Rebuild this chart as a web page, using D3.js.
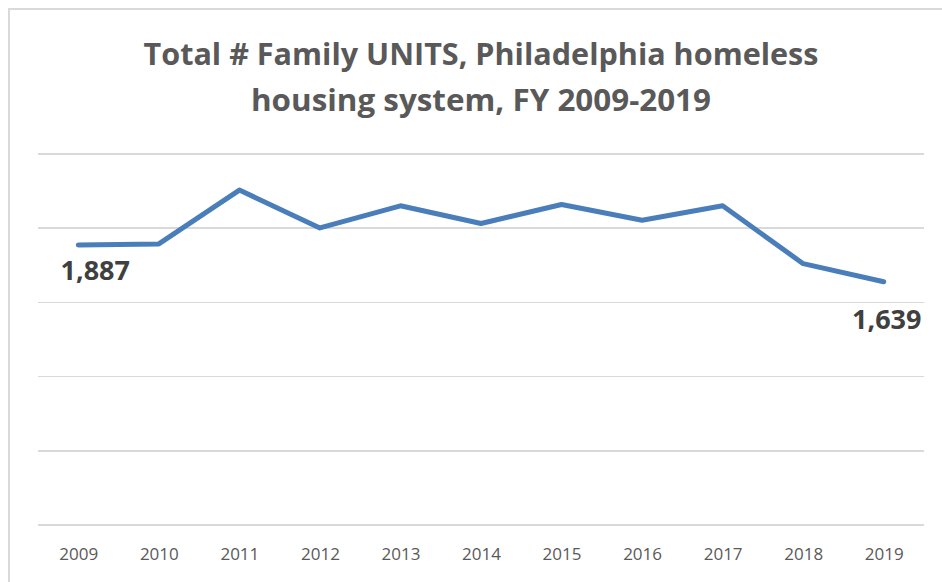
<!DOCTYPE html>
<html>
<head>
    <meta charset="utf-8">
    <script src="https://cdnjs.cloudflare.com/ajax/libs/d3/7.8.5/d3.min.js"></script>
    <style>
        body {
            margin: 0;
            background-color: #fff;
        }
        svg { display: block; }
        .grid line {
            stroke: #d9d9d9;
            stroke-width: 1.5;
            shape-rendering: crispEdges;
        }
        .x-axis path,
        .x-axis line { display: none; }
        .x-axis text {
            font: 17px 'Open Sans';
            fill: #595959;
        }
    </style>
</head>
<body>
    <svg width="942" height="582"></svg>
    <script>
        // chart data
        var years = ["2009", "2010", "2011", "2012", "2013", "2014", "2015", "2016", "2017", "2018", "2019"];
        var familyUnits = [1887, 1894, 2257, 2002, 2151, 2032, 2160, 2054, 2151, 1761, 1639];
        var gridValues = [0, 500, 1000, 1500, 2000, 2500];
        var titleLines = ["Total # Family UNITS, Philadelphia homeless", "housing system, FY 2009-2019"];
        var labelledYears = ["2009", "2019"];

        var svg = d3.select("svg");

        // outer frame of the chart area
        svg.append("rect")
            .attr("x", 9)
            .attr("y", 9)
            .attr("width", 980)
            .attr("height", 620)
            .style("fill", "none")
            .style("stroke", "#d9d9d9")
            .style("stroke-width", 2);

        // scales
        var x = d3.scalePoint().domain(years).range([38, 924]).padding(0.5),
            y = d3.scaleLinear().domain([0, 2500]).range([525, 154]);

        // horizontal gridlines
        svg.append("g")
            .attr("class", "grid")
            .selectAll("line")
            .data(gridValues)
            .enter()
            .append("line")
            .attr("x1", 38)
            .attr("x2", 924)
            .attr("y1", function(d) { return y(d); })
            .attr("y2", function(d) { return y(d); });

        // x axis (labels only)
        svg.append("g")
            .attr("class", "x-axis")
            .attr("transform", "translate(0,525)")
            .call(d3.axisBottom(x).tickSize(0).tickPadding(23));

        // line
        var data = years.map(function(yr, i) { return {year: yr, value: familyUnits[i]}; });
        var line = d3.line()
            .x(function(d) { return x(d.year); })
            .y(function(d) { return y(d.value); });

        svg.append("path")
            .datum(data)
            .attr("d", line)
            .style("fill", "none")
            .style("stroke", "#4a7ebb")
            .style("stroke-width", 5)
            .style("stroke-linejoin", "round")
            .style("stroke-linecap", "round");

        // data labels for first and last year
        var labelOffset = {"2009": [17, 35], "2019": [3, 47]};
        svg.selectAll(".data-label")
            .data(data.filter(function(d) { return labelledYears.indexOf(d.year) >= 0; }))
            .enter()
            .append("text")
            .attr("class", "data-label")
            .attr("x", function(d) { return x(d.year) + labelOffset[d.year][0]; })
            .attr("y", function(d) { return y(d.value) + labelOffset[d.year][1]; })
            .attr("text-anchor", "middle")
            .style("font", "bold 27px 'Open Sans'")
            .style("fill", "#404040")
            .text(function(d) { return d3.format(",")(d.value); });

        // title
        var titleWidths = [675, 460];
        svg.append("g")
            .attr("class", "title")
            .selectAll("text")
            .data(titleLines)
            .enter()
            .append("text")
            .attr("x", 481)
            .attr("y", function(d, i) { return 65 + i * 46; })
            .attr("text-anchor", "middle")
            .attr("textLength", function(d, i) { return titleWidths[i]; })
            .attr("lengthAdjust", "spacingAndGlyphs")
            .style("font", "bold 30px 'Open Sans'")
            .style("fill", "#595959")
            .text(function(d) { return d; });
    </script>
</body>
</html>
